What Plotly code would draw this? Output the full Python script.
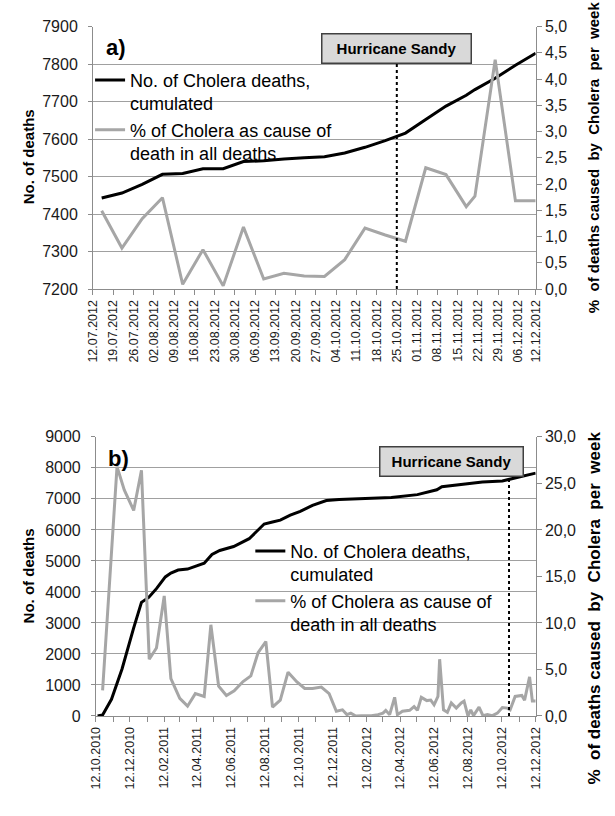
import plotly.graph_objects as go

# ---------------- data: panel a (Jul-Dec 2012) ----------------
a_dates = ["2012-07-15", "2012-07-22", "2012-07-29", "2012-08-05", "2012-08-12", "2012-08-19",
           "2012-08-26", "2012-09-02", "2012-09-09", "2012-09-16", "2012-09-23", "2012-09-30",
           "2012-10-07", "2012-10-14", "2012-10-21", "2012-10-28", "2012-11-04", "2012-11-11",
           "2012-11-18", "2012-11-21", "2012-11-28", "2012-12-05", "2012-12-12"]
a_cum_deaths = [7443, 7456, 7479, 7506, 7508, 7521, 7521, 7540, 7542, 7547, 7550, 7553,
                7563, 7578, 7596, 7616, 7652, 7688, 7717, 7732, 7762, 7797, 7829]
a_pct = [1.49, 0.78, 1.34, 1.74, 0.09, 0.75, 0.06, 1.18, 0.19, 0.30, 0.25, 0.24,
         0.56, 1.16, 1.03, 0.91, 2.31, 2.18, 1.57, 1.77, 4.37, 1.68, 1.68]
a_tick_dates = ["2012-07-12", "2012-07-19", "2012-07-26", "2012-08-02", "2012-08-09", "2012-08-16",
                "2012-08-23", "2012-08-30", "2012-09-06", "2012-09-13", "2012-09-20", "2012-09-27",
                "2012-10-04", "2012-10-11", "2012-10-18", "2012-10-25", "2012-11-01", "2012-11-08",
                "2012-11-15", "2012-11-22", "2012-11-29", "2012-12-06", "2012-12-12"]
a_tick_labels = ["12.07.2012", "19.07.2012", "26.07.2012", "02.08.2012", "09.08.2012", "16.08.2012",
                 "23.08.2012", "30.08.2012", "06.09.2012", "13.09.2012", "20.09.2012", "27.09.2012",
                 "04.10.2012", "11.10.2012", "18.10.2012", "25.10.2012", "01.11.2012", "08.11.2012",
                 "15.11.2012", "22.11.2012", "29.11.2012", "06.12.2012", "12.12.2012"]
a_left_ticks = [7200, 7300, 7400, 7500, 7600, 7700, 7800, 7900]
a_right_ticks = [0.0, 0.5, 1.0, 1.5, 2.0, 2.5, 3.0, 3.5, 4.0, 4.5, 5.0]
a_right_labels = ["0,0", "0,5", "1,0", "1,5", "2,0", "2,5", "3,0", "3,5", "4,0", "4,5", "5,0"]

# ---------------- data: panel b (Oct 2010 - Dec 2012) ----------------
b_cum_dates = ["2010-10-15", "2010-10-24", "2010-11-09", "2010-11-28", "2010-12-19", "2011-01-02",
               "2011-01-15", "2011-01-29", "2011-02-14", "2011-02-24", "2011-03-09", "2011-03-26",
               "2011-04-25", "2011-05-09", "2011-05-23", "2011-06-17", "2011-07-15", "2011-08-11",
               "2011-08-26", "2011-09-09", "2011-09-27", "2011-10-15", "2011-11-06", "2011-12-01",
               "2011-12-24", "2012-02-10", "2012-03-27", "2012-05-13", "2012-06-17", "2012-06-26",
               "2012-08-03", "2012-09-07", "2012-10-13", "2012-11-05", "2012-12-12"]
b_cum_deaths = [0, 30, 537, 1516, 2842, 3663, 3821, 4105, 4484, 4610, 4705, 4737,
                4926, 5210, 5337, 5463, 5716, 6189, 6253, 6316, 6474, 6600, 6789, 6947,
                6979, 7011, 7042, 7137, 7295, 7389, 7484, 7547, 7579, 7674, 7832]
b_pct_dates = ["2010-10-24", "2010-11-19", "2010-12-02", "2010-12-19", "2011-01-02", "2011-01-16",
               "2011-01-29", "2011-02-12", "2011-02-24", "2011-03-12", "2011-03-26", "2011-04-09",
               "2011-04-25", "2011-05-07", "2011-05-21", "2011-06-04", "2011-06-18", "2011-07-04",
               "2011-07-18", "2011-07-31", "2011-08-14", "2011-08-26", "2011-09-09", "2011-09-23",
               "2011-10-09", "2011-10-23", "2011-11-06", "2011-11-22", "2011-12-06", "2011-12-19",
               "2011-12-30", "2012-01-07", "2012-01-14", "2012-01-23", "2012-02-02", "2012-02-20",
               "2012-03-03", "2012-03-12", "2012-03-17", "2012-03-24", "2012-04-02", "2012-04-07",
               "2012-04-16", "2012-04-29", "2012-05-07", "2012-05-13", "2012-05-20", "2012-05-30",
               "2012-06-06", "2012-06-12", "2012-06-19", "2012-06-22", "2012-06-29", "2012-07-06",
               "2012-07-13", "2012-07-22", "2012-07-31", "2012-08-05", "2012-08-12", "2012-08-17",
               "2012-08-22", "2012-09-01", "2012-09-08", "2012-09-16", "2012-09-25", "2012-10-04",
               "2012-10-13", "2012-10-22", "2012-10-27", "2012-11-05", "2012-11-17", "2012-11-22",
               "2012-12-01", "2012-12-06", "2012-12-12"]
b_pct = [2.74, 26.8, 24.3, 22.1, 26.4, 6.1,
         7.3, 12.9, 4.0, 1.9, 1.05, 2.4,
         2.1, 9.8, 3.2, 2.2, 2.7, 3.7,
         4.3, 6.8, 8.0, 0.95, 1.7, 4.7,
         3.65, 2.95, 2.95, 3.1, 2.4, 0.5,
         0.66, 0.14, 0.3, 0.0, 0.03, 0.03,
         0.14, 0.3, 0.6, 0.14, 2.0, 0.14,
         0.5, 0.6, 1.0, 0.6, 2.0, 1.65,
         1.7, 1.2, 2.1, 6.1, 0.66, 0.4,
         1.4, 0.84, 1.4, 1.6, 0.0, 0.66,
         0.03, 0.95, 0.03, 0.14, 0.03, 0.3,
         0.9, 0.84, 0.66, 2.1, 2.2, 1.7,
         4.2, 1.6, 1.6]
b_tick_dates = ["2010-10-12", "2010-12-12", "2011-02-12", "2011-04-12", "2011-06-12", "2011-08-12",
                "2011-10-12", "2011-12-12", "2012-02-12", "2012-04-12", "2012-06-12", "2012-08-12",
                "2012-10-12", "2012-12-12"]
b_tick_labels = ["12.10.2010", "12.12.2010", "12.02.2011", "12.04.2011", "12.06.2011", "12.08.2011",
                 "12.10.2011", "12.12.2011", "12.02.2012", "12.04.2012", "12.06.2012", "12.08.2012",
                 "12.10.2012", "12.12.2012"]
b_minor_dates = ["2010-11-12", "2011-01-12", "2011-03-12", "2011-05-12", "2011-07-12", "2011-09-12",
                 "2011-11-12", "2012-01-12", "2012-03-12", "2012-05-12", "2012-07-12", "2012-09-12",
                 "2012-11-12"]
b_left_ticks = [0, 1000, 2000, 3000, 4000, 5000, 6000, 7000, 8000, 9000]
b_right_ticks = [0, 5, 10, 15, 20, 25, 30]
b_right_labels = ["0,0", "5,0", "10,0", "15,0", "20,0", "25,0", "30,0"]

hurricane_date = "2012-10-25"
name_cum = "No. of Cholera deaths,<br>cumulated"
name_pct = "% of Cholera as cause of<br>death in all deaths"
right_words = ["%", "of deaths caused", "by", "Cholera", "per", "week"]

# ---------------- styling ----------------
FONT = "Arial, Liberation Sans, sans-serif"
BLACK = "#000000"
GRAY = "#a6a6a6"
GRID = "#a0a0a0"
AXIS = "#8c8c8c"
W, H = 615, 816

def px_x(p):
    return p / W

def px_y(p):
    return 1 - p / H

def spaced(words, n):
    gap = " " + "\u00a0" * (n - 1)
    return "<b>" + gap.join(words) + "</b>"

fig = go.Figure()

fig.add_trace(go.Scatter(x=a_dates, y=a_cum_deaths, mode="lines", name=name_cum,
                         line=dict(color=BLACK, width=3), xaxis="x", yaxis="y", legend="legend"))
fig.add_trace(go.Scatter(x=a_dates, y=a_pct, mode="lines", name=name_pct,
                         line=dict(color=GRAY, width=3), xaxis="x", yaxis="y2", legend="legend"))
fig.add_trace(go.Scatter(x=b_cum_dates, y=b_cum_deaths, mode="lines", name=name_cum,
                         line=dict(color=BLACK, width=3), xaxis="x2", yaxis="y3", legend="legend2"))
fig.add_trace(go.Scatter(x=b_pct_dates, y=b_pct, mode="lines", name=name_pct,
                         line=dict(color=GRAY, width=3), xaxis="x2", yaxis="y4", legend="legend2"))

tickfont = dict(family=FONT, size=16, color="#1a1a1a")
xtickfont = dict(family=FONT, size=12.5, color="#1a1a1a")

common_x = dict(type="date", showgrid=False, showline=True, linecolor=AXIS, linewidth=1,
                ticks="outside", ticklen=5, tickcolor=AXIS, tickangle=-90, tickfont=xtickfont,
                zeroline=False, fixedrange=True)
common_yl = dict(showgrid=True, gridcolor=GRID, gridwidth=1, showline=True, linecolor=AXIS,
                 ticks="outside", ticklen=4, tickcolor=AXIS, tickfont=tickfont, zeroline=False,
                 ticklabelstandoff=7, fixedrange=True)
common_yr = dict(showgrid=False, showline=True, linecolor=AXIS, ticks="outside", ticklen=5,
                 tickcolor=AXIS, tickfont=tickfont, zeroline=False, side="right", fixedrange=True)

legend_font = dict(family=FONT, size=18, color="#000")

fig.update_layout(
    width=W, height=H,
    margin=dict(l=0, r=0, t=0, b=0),
    paper_bgcolor="white", plot_bgcolor="white",
    font=dict(family=FONT, color="#000000"),
    showlegend=True,
    xaxis=dict(common_x, domain=[px_x(88), px_x(541)], anchor="y",
               range=["2012-07-12", "2012-12-12"],
               tickmode="array", tickvals=a_tick_dates, ticktext=a_tick_labels),
    yaxis=dict(common_yl, domain=[px_y(287), px_y(19)], anchor="x",
               range=[a_left_ticks[0], a_left_ticks[-1]], tickmode="array", tickvals=a_left_ticks,
               ticktext=[str(v) for v in a_left_ticks]),
    yaxis2=dict(common_yr, overlaying="y", anchor="x",
                range=[a_right_ticks[0], a_right_ticks[-1]], tickmode="array",
                tickvals=a_right_ticks, ticktext=a_right_labels),
    xaxis2=dict(common_x, domain=[px_x(91), px_x(541)], anchor="y3",
                range=["2010-10-12", "2012-12-12"],
                tickmode="array", tickvals=b_tick_dates, ticktext=b_tick_labels,
                minor=dict(tickmode="array", tickvals=b_minor_dates, ticks="outside", ticklen=5,
                           tickcolor=AXIS, showgrid=False)),
    yaxis3=dict(common_yl, domain=[px_y(723), px_y(438)], anchor="x2",
                range=[b_left_ticks[0], b_left_ticks[-1]], tickmode="array", tickvals=b_left_ticks,
                ticktext=[str(v) for v in b_left_ticks]),
    yaxis4=dict(common_yr, overlaying="y3", anchor="x2",
                range=[b_right_ticks[0], b_right_ticks[-1]], tickmode="array",
                tickvals=b_right_ticks, ticktext=b_right_labels),
    legend=dict(x=px_x(85), y=px_y(55), xanchor="left", yanchor="top",
                bgcolor="rgba(0,0,0,0)", font=legend_font,
                itemwidth=30, valign="top", tracegroupgap=0),
    legend2=dict(x=px_x(249), y=px_y(536), xanchor="left", yanchor="top",
                 bgcolor="rgba(0,0,0,0)", font=legend_font,
                 itemwidth=30, valign="top", tracegroupgap=0),
)

shapes = [
    dict(type="line", xref="x", yref="paper", x0=hurricane_date, x1=hurricane_date,
         y0=px_y(287), y1=px_y(56), line=dict(color="#000", width=2, dash="dot")),
    dict(type="line", xref="x2", yref="paper", x0=hurricane_date, x1=hurricane_date,
         y0=px_y(723), y1=px_y(477), line=dict(color="#000", width=2, dash="dot")),
]
fig.update_layout(shapes=shapes)

box_font = dict(family=FONT, size=15, color="#000")
ann = [
    dict(text="<b>Hurricane Sandy</b>", xref="x", yref="paper", x=hurricane_date, y=px_y(26),
         xanchor="center", yanchor="top", showarrow=False, font=box_font,
         bgcolor="#d9d9d9", bordercolor="#404040", borderwidth=1.5, width=146, height=26),
    dict(text="<b>Hurricane Sandy</b>", xref="paper", yref="paper", x=px_x(455), y=px_y(447),
         xanchor="center", yanchor="top", showarrow=False, font=box_font,
         bgcolor="#d9d9d9", bordercolor="#404040", borderwidth=1.5, width=140, height=26),
    dict(text="<b>a)</b>", xref="paper", yref="paper", x=px_x(99), y=px_y(40),
         xanchor="left", yanchor="middle", showarrow=False, font=dict(family=FONT, size=22)),
    dict(text="<b>b)</b>", xref="paper", yref="paper", x=px_x(101), y=px_y(460),
         xanchor="left", yanchor="middle", showarrow=False, font=dict(family=FONT, size=22)),
    dict(text="<b>No. of deaths</b>", xref="paper", yref="paper", x=px_x(22), y=px_y(152),
         xanchor="center", yanchor="middle", textangle=-90, showarrow=False,
         font=dict(family=FONT, size=15)),
    dict(text="<b>No. of deaths</b>", xref="paper", yref="paper", x=px_x(22), y=px_y(580),
         xanchor="center", yanchor="middle", textangle=-90, showarrow=False,
         font=dict(family=FONT, size=15)),
    dict(text=spaced(right_words, 2), xref="paper", yref="paper", x=px_x(601), y=px_y(152),
         xanchor="center", yanchor="middle", textangle=-90, showarrow=False,
         font=dict(family=FONT, size=15)),
    dict(text=spaced(right_words, 2), xref="paper", yref="paper", x=px_x(601), y=px_y(613),
         xanchor="center", yanchor="middle", textangle=-90, showarrow=False,
         font=dict(family=FONT, size=17)),
]
fig.update_layout(annotations=ann)

fig.write_html("out.html", config={"displayModeBar": False, "staticPlot": True},
               post_script="document.body.style.margin='0px';")
